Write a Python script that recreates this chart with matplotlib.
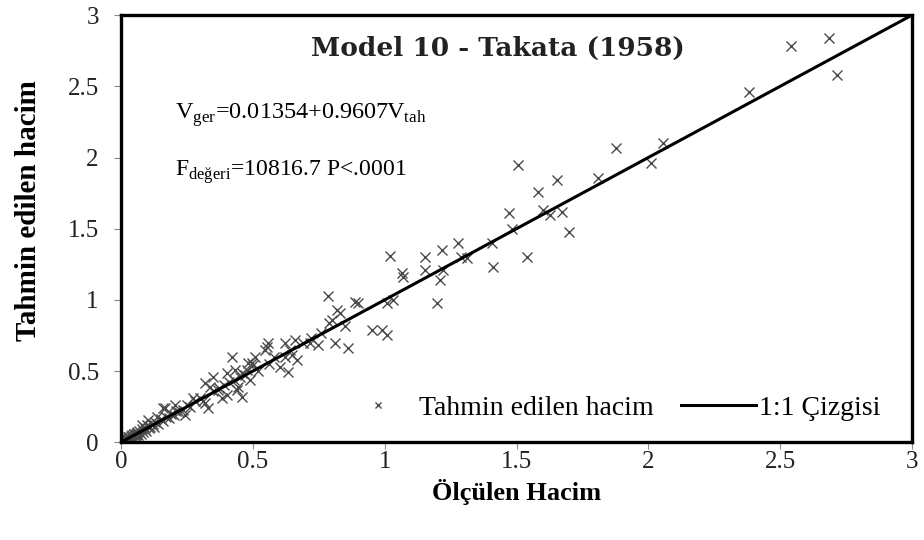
""" Takata (1958) model: predicted vs measured volume scatter with the 1:1 line."""
import numpy as np
import matplotlib.pyplot as plt

olculen = [
    2.54, 2.685, 2.715, 2.38, 1.877, 2.055, 2.01, 1.81, 1.505, 1.653,
    1.58, 1.47, 1.60, 1.627, 1.672, 1.70, 1.483, 1.54, 1.41, 1.407,
    1.278, 1.217, 1.153, 1.02, 1.312, 1.29, 1.066, 1.07, 1.153, 1.22,
    1.21, 1.20, 1.009, 1.03, 0.887, 0.90, 0.82, 0.952, 0.99, 1.009,
    0.81, 0.861, 0.785, 0.83, 0.80, 0.85, 0.79, 0.747, 0.717, 0.66,
    0.622, 0.648, 0.667, 0.557, 0.546, 0.508, 0.603, 0.633, 0.497, 0.478,
    0.554, 0.50, 0.49, 0.444, 0.42, 0.349, 0.40, 0.432, 0.459, 0.48,
    0.318, 0.368, 0.318, 0.33, 0.40, 0.459, 0.44, 0.383, 0.235, 0.243,
    0.167, 0.205, 0.273, 0.136, 0.102, 0.08, 0.337, 0.16,
    0.35, 0.37, 0.39, 0.41, 0.43, 0.45, 0.47, 0.52, 0.56, 0.58,
    0.62, 0.64, 0.69, 0.72, 0.76,
    0.005, 0.008, 0.012, 0.018, 0.022, 0.028, 0.033, 0.038, 0.042, 0.048,
    0.052, 0.058, 0.062, 0.01, 0.015, 0.02, 0.025, 0.03, 0.035, 0.04,
    0.045, 0.05, 0.055, 0.06, 0.065, 0.07, 0.075, 0.08, 0.085, 0.09,
    0.095, 0.1, 0.105, 0.11, 0.12, 0.125, 0.13, 0.14, 0.15, 0.16,
    0.17, 0.18, 0.19, 0.2, 0.21, 0.22, 0.25, 0.26, 0.28, 0.3, 0.31,
]
tahmin = [
    2.78, 2.84, 2.58, 2.46, 2.07, 2.10, 1.96, 1.855, 1.95, 1.84,
    1.76, 1.61, 1.63, 1.595, 1.62, 1.476, 1.50, 1.30, 1.23, 1.40,
    1.40, 1.35, 1.30, 1.307, 1.293, 1.30, 1.19, 1.16, 1.21, 1.21,
    1.14, 0.977, 0.98, 1.00, 0.985, 0.977, 0.93, 0.787, 0.787, 0.75,
    0.695, 0.66, 1.026, 0.905, 0.857, 0.82, 0.835, 0.68, 0.695, 0.717,
    0.695, 0.61, 0.576, 0.695, 0.646, 0.597, 0.527, 0.49, 0.555, 0.506,
    0.668, 0.54, 0.436, 0.386, 0.597, 0.457, 0.485, 0.506, 0.485, 0.555,
    0.415, 0.365, 0.274, 0.239, 0.33, 0.316, 0.365, 0.309, 0.225, 0.19,
    0.239, 0.26, 0.309, 0.176, 0.155, 0.12, 0.386, 0.24,
    0.36, 0.38, 0.40, 0.42, 0.44, 0.46, 0.47, 0.50, 0.55, 0.60,
    0.60, 0.65, 0.70, 0.73, 0.77,
    0.005, 0.012, 0.006, 0.022, 0.015, 0.035, 0.025, 0.045, 0.04, 0.055,
    0.045, 0.06, 0.065, 0.02, 0.01, 0.03, 0.02, 0.04, 0.03, 0.05,
    0.03, 0.06, 0.05, 0.07, 0.05, 0.08, 0.06, 0.09, 0.07, 0.1,
    0.08, 0.12, 0.1, 0.11, 0.13, 0.11, 0.14, 0.13, 0.16, 0.15,
    0.18, 0.17, 0.2, 0.19, 0.22, 0.21, 0.26, 0.25, 0.29, 0.31, 0.29,
]
esit_cizgi = [0, 3]
ticks = [0, 0.5, 1, 1.5, 2, 2.5, 3]
tick_labels = ['0', '0.5', '1', '1.5', '2', '2.5', '3']

plt.rcParams['font.family'] = ['Liberation Serif', 'DejaVu Serif']
plt.rcParams['mathtext.fontset'] = 'custom'
plt.rcParams['mathtext.rm'] = 'Liberation Serif'

fig = plt.figure(figsize=(9.24, 5.4), dpi=100)
ax = fig.add_axes([0.131, 0.181, 0.856, 0.791])

ax.plot(olculen, tahmin, linestyle='none', marker='x', color='#4a4a4a',
        markersize=7, markeredgewidth=1.0, label='Tahmin edilen hacim')
ax.plot(esit_cizgi, esit_cizgi, color='black', linewidth=2.2, label='1:1 Çizgisi')

ax.set_xlim(0, 3)
ax.set_ylim(0, 3)
ax.set_xticks(ticks)
ax.set_xticklabels(tick_labels)
ax.set_yticks(ticks)
ax.set_yticklabels(tick_labels)
ax.tick_params(axis='both', direction='out', length=5, width=0.8, color='#888888',
               labelsize=18, labelcolor='#222222')
ax.tick_params(axis='x', pad=1)
ax.tick_params(axis='y', pad=11)
for side in ax.spines.values():
    side.set_linewidth(2.4)
    side.set_color('black')

ax.set_xlabel('Ölçülen Hacim', fontsize=19, fontweight='bold')
ax.xaxis.set_label_coords(0.5, -0.087)
ax.set_ylabel('Tahmin edilen hacim', fontsize=21, fontweight='bold')
ax.yaxis.set_label_coords(-0.10, 0.543)

ax.text(0.477, 0.923, 'Model 10 - Takata (1958)', transform=ax.transAxes,
        ha='center', va='center', fontsize=19, fontweight='bold', color='#222222',
        family='DejaVu Serif')
ax.text(0.068, 0.766, r'V$_{\mathrm{ger}}$=0.01354+0.9607V$_{\mathrm{tah}}$',
        transform=ax.transAxes, ha='left', va='center', fontsize=17.5)
ax.text(0.068, 0.632, r'F$_{\mathrm{değeri}}$=10816.7 P<.0001',
        transform=ax.transAxes, ha='left', va='center', fontsize=17)

ax.legend(loc='center right', bbox_to_anchor=(0.96, 0.08), ncol=2, frameon=False,
          fontsize=20, markerscale=0.6, handlelength=2.7, columnspacing=1.0,
          handletextpad=0.1, borderpad=0, borderaxespad=0)

fig.savefig('out.png', dpi=100)
